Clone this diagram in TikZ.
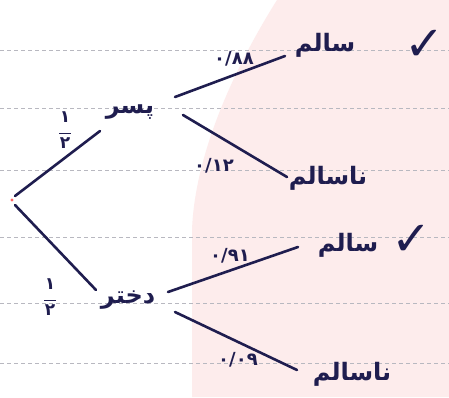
\documentclass[tikz,border=0pt]{standalone}
\usepackage{fontspec}
\usepackage{tikz}
\usetikzlibrary{positioning,calc}
\TeXXeTstate=1
\newfontfamily\arabicfont[Script=Arabic]{DejaVu Sans}
\newfontfamily\symfont{DejaVu Sans}
\definecolor{ink}{HTML}{1F1D4F}
\definecolor{paper}{HTML}{FDECEC}
\definecolor{ruling}{HTML}{B8B8C0}
\newcommand{\fa}[1]{\beginR #1\endR}
\newcommand{\half}{۱\\[-7pt]\rule{12pt}{1.8pt}\\[-5pt]۲}

\begin{document}
\begin{tikzpicture}[
  x=1pt, y=-1pt,
  word/.style={text=ink, inner sep=1pt,
               font=\arabicfont\bfseries\fontsize{24}{28}\selectfont},
  prob/.style={text=ink, inner sep=1pt,
               font=\arabicfont\bfseries\fontsize{18}{21}\selectfont},
  frac/.style={text=ink, inner sep=0pt, align=center,
               font=\arabicfont\bfseries\fontsize{17}{19}\selectfont},
  tick/.style={text=ink, inner sep=0pt,
               font=\symfont\bfseries\fontsize{48}{50}\selectfont},
  branch/.style={ink, line width=2.6pt, line cap=round},
  ruled/.style={ruling, dash pattern=on 4pt off 3pt, line width=0.7pt},
]
\useasboundingbox (0,0) rectangle (449,397);
\fill[white] (0,0) rectangle (449,397);

%% paper
\fill[paper] (277,0) .. controls (238,62) and (195,150) .. (192,230)
  -- (192,397) -- (449,397) -- (449,0) -- cycle;
\foreach \y in {50,108,170,237,303,363}
  \draw[ruled] (0,\y) -- (449,\y);

%% root
\coordinate (root) at (12,200);
\fill[red!60] (root) circle (1.6);

%% first level
\node[word] (boy) at (130,112) {\fa{پسر}};
\node[word] (girl) at (128,300) {\fa{دختر}};
\node[frac] (h1) at (65,130) {\half};
\node[frac] (h2) at (50,297) {\half};

%% second level
\node[word] (s1) at (325,45) {\fa{سالم}};
\node[word] (ns1) at (328,178) {\fa{ناسالم}};
\node[word] (s2) at (348,245) {\fa{سالم}};
\node[word] (ns2) at (352,374) {\fa{ناسالم}};

\node[tick] (c1) at (425,45) {✓};
\node[tick] (c2) at (412,240) {✓};

%% probabilities
\node[prob] (p88) at (234,59) {۰/۸۸};
\node[prob] (p12) at (214,166) {۰/۱۲};
\node[prob] (p91) at (230,256) {۰/۹۱};
\node[prob] (p09) at (238,360) {۰/۰۹};

%% branches
\draw[branch] ($(root)+(3,-4)$) -- ($(boy)+(-30,19)$);
\draw[branch] ($(root)+(3,5)$) -- ($(girl)+(-32,-10)$);
\draw[branch] ($(boy)+(45,-15)$) -- ($(s1)+(-40,11)$);
\draw[branch] ($(boy)+(53,3)$) -- ($(ns1)+(-41,-1)$);
\draw[branch] ($(girl)+(40,-8)$) -- ($(s2)+(-50,2)$);
\draw[branch] ($(girl)+(47,12)$) -- ($(ns2)+(-55,-4)$);

\end{tikzpicture}
\end{document}
